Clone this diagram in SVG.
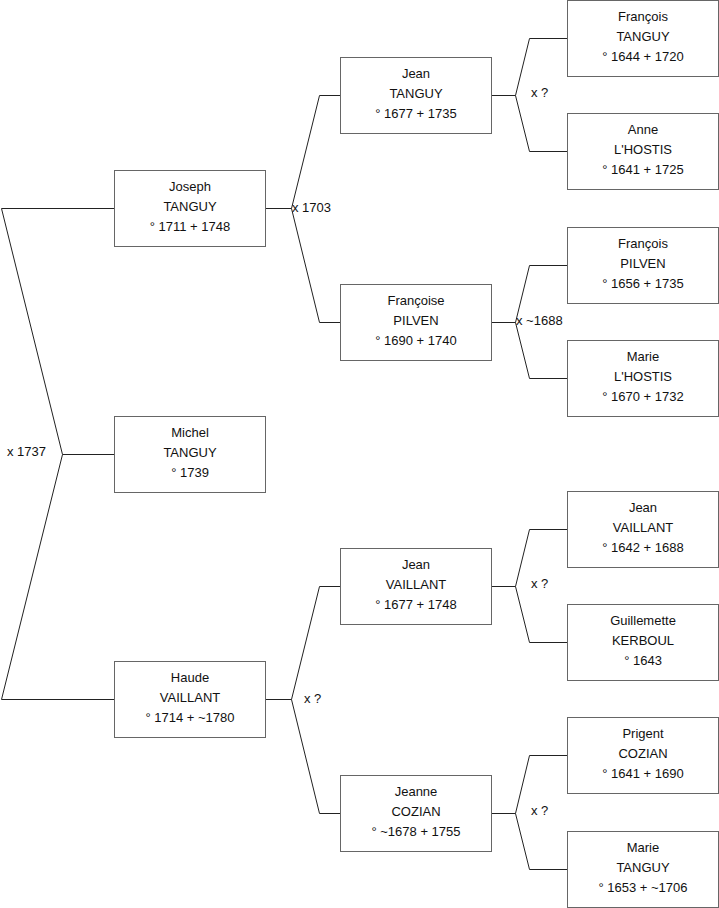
<svg xmlns="http://www.w3.org/2000/svg" width="719" height="908" viewBox="0 0 719 908">
<style>
.box{fill:#fff;stroke:#666;stroke-width:1}
.t{font-family:"Liberation Sans",Arial,sans-serif;font-size:13px;fill:#111;text-anchor:middle}
.l{font-family:"Liberation Sans",Arial,sans-serif;font-size:13px;fill:#111}
.c{fill:none;stroke:#222;stroke-width:1}
</style>
<rect width="719" height="908" fill="#fff"/>
<g id="connectors">
<path class="c" d="M114.5,208.5H1.5L62.5,454.5H114.5M114.5,699.5H1.5L62.5,454.5"/>
<path class="c" d="M265.5,208.5H291.5L319.5,95.5H340.5M291.5,208.5L319.5,322.5H340.5"/>
<path class="c" d="M265.5,699.5H291.5L319.5,586.5H340.5M291.5,699.5L319.5,813.5H340.5"/>
<path class="c" d="M491.5,95.5H515.5L529.5,38.5H567.5M515.5,95.5L529.5,151.5H567.5"/>
<path class="c" d="M491.5,322.5H515.5L529.5,265.5H567.5M515.5,322.5L529.5,378.5H567.5"/>
<path class="c" d="M491.5,586.5H515.5L529.5,529.5H567.5M515.5,586.5L529.5,642.5H567.5"/>
<path class="c" d="M491.5,813.5H515.5L529.5,755.5H567.5M515.5,813.5L529.5,869.5H567.5"/>
<text class="l" x="7" y="456">x 1737</text>
<text class="l" x="292" y="212">x 1703</text>
<text class="l" x="304" y="703">x ?</text>
<text class="l" x="531" y="97">x ?</text>
<text class="l" x="516" y="325">x ~1688</text>
<text class="l" x="531" y="588">x ?</text>
<text class="l" x="531" y="815">x ?</text>
</g>
<g id="joseph"><rect class="box" x="114.5" y="170.5" width="151" height="76"/><text class="t" x="190" y="191">Joseph</text><text class="t" x="190" y="211">TANGUY</text><text class="t" x="190" y="231">° 1711 + 1748</text></g>
<g id="michel"><rect class="box" x="114.5" y="416.5" width="151" height="76"/><text class="t" x="190" y="437">Michel</text><text class="t" x="190" y="457">TANGUY</text><text class="t" x="190" y="477">° 1739</text></g>
<g id="haude"><rect class="box" x="114.5" y="661.5" width="151" height="76"/><text class="t" x="190" y="682">Haude</text><text class="t" x="190" y="702">VAILLANT</text><text class="t" x="190" y="722">° 1714 + ~1780</text></g>
<g id="jean-tanguy"><rect class="box" x="340.5" y="57.5" width="151" height="76"/><text class="t" x="416" y="78">Jean</text><text class="t" x="416" y="98">TANGUY</text><text class="t" x="416" y="118">° 1677 + 1735</text></g>
<g id="francoise"><rect class="box" x="340.5" y="284.5" width="151" height="76"/><text class="t" x="416" y="305">Françoise</text><text class="t" x="416" y="325">PILVEN</text><text class="t" x="416" y="345">° 1690 + 1740</text></g>
<g id="jean-vaillant"><rect class="box" x="340.5" y="548.5" width="151" height="76"/><text class="t" x="416" y="569">Jean</text><text class="t" x="416" y="589">VAILLANT</text><text class="t" x="416" y="609">° 1677 + 1748</text></g>
<g id="jeanne"><rect class="box" x="340.5" y="775.5" width="151" height="76"/><text class="t" x="416" y="796">Jeanne</text><text class="t" x="416" y="816">COZIAN</text><text class="t" x="416" y="836">° ~1678 + 1755</text></g>
<g id="francois-tanguy"><rect class="box" x="567.5" y="0.5" width="151" height="76"/><text class="t" x="643" y="21">François</text><text class="t" x="643" y="41">TANGUY</text><text class="t" x="643" y="61">° 1644 + 1720</text></g>
<g id="anne"><rect class="box" x="567.5" y="113.5" width="151" height="76"/><text class="t" x="643" y="134">Anne</text><text class="t" x="643" y="154">L'HOSTIS</text><text class="t" x="643" y="174">° 1641 + 1725</text></g>
<g id="francois-pilven"><rect class="box" x="567.5" y="227.5" width="151" height="76"/><text class="t" x="643" y="248">François</text><text class="t" x="643" y="268">PILVEN</text><text class="t" x="643" y="288">° 1656 + 1735</text></g>
<g id="marie-lhostis"><rect class="box" x="567.5" y="340.5" width="151" height="76"/><text class="t" x="643" y="361">Marie</text><text class="t" x="643" y="381">L'HOSTIS</text><text class="t" x="643" y="401">° 1670 + 1732</text></g>
<g id="jean-vaillant-sr"><rect class="box" x="567.5" y="491.5" width="151" height="76"/><text class="t" x="643" y="512">Jean</text><text class="t" x="643" y="532">VAILLANT</text><text class="t" x="643" y="552">° 1642 + 1688</text></g>
<g id="guillemette"><rect class="box" x="567.5" y="604.5" width="151" height="76"/><text class="t" x="643" y="625">Guillemette</text><text class="t" x="643" y="645">KERBOUL</text><text class="t" x="643" y="665">° 1643</text></g>
<g id="prigent"><rect class="box" x="567.5" y="717.5" width="151" height="76"/><text class="t" x="643" y="738">Prigent</text><text class="t" x="643" y="758">COZIAN</text><text class="t" x="643" y="778">° 1641 + 1690</text></g>
<g id="marie-tanguy"><rect class="box" x="567.5" y="831.5" width="151" height="76"/><text class="t" x="643" y="852">Marie</text><text class="t" x="643" y="872">TANGUY</text><text class="t" x="643" y="892">° 1653 + ~1706</text></g>
</svg>
